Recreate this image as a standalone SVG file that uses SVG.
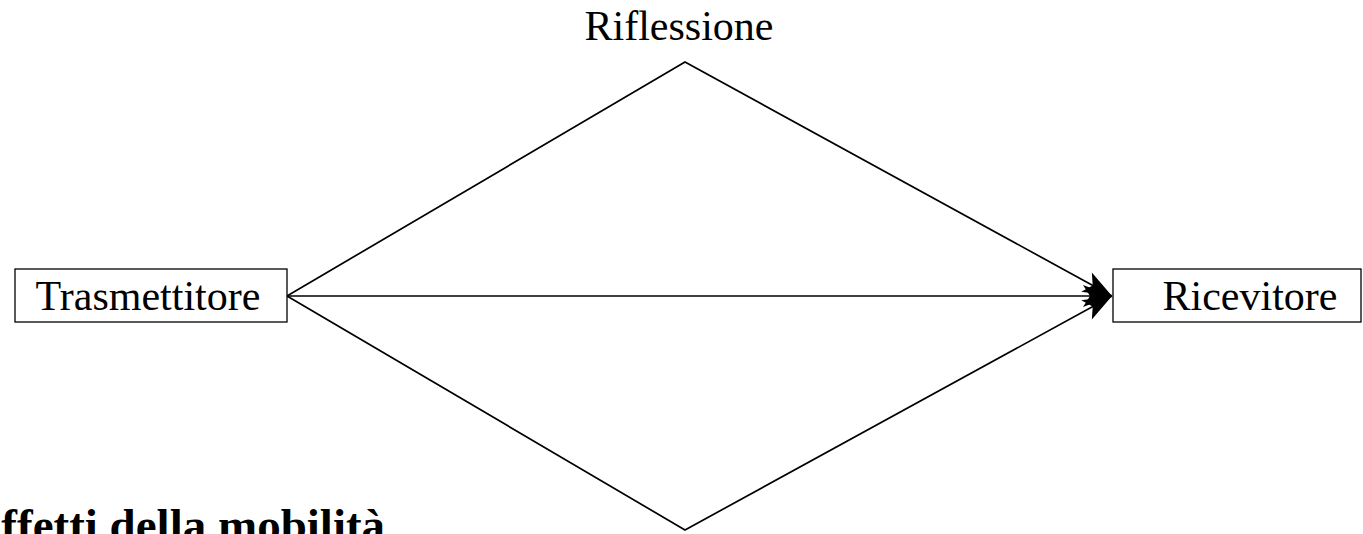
<svg xmlns="http://www.w3.org/2000/svg" width="1363" height="534" viewBox="0 0 1363 534">
<style>
.box{fill:#fff;stroke:#000;stroke-width:1.3}
.lbl{font-family:"Liberation Serif","Times New Roman",serif;font-size:42px;fill:#000}
.edge{fill:none;stroke:#000;stroke-width:1.7}
.title{font-family:"Liberation Serif","Times New Roman",serif;font-size:47px;font-weight:bold;fill:#000}
</style>
<defs>
<marker id="arr" viewBox="-30 -12 32 24" refX="0" refY="0" markerWidth="32" markerHeight="24" markerUnits="userSpaceOnUse" orient="auto">
<path d="M0,0 L-29,-11 L-22,0 L-29,11 Z" fill="#000"/>
</marker>
</defs>
<rect width="1363" height="534" fill="#fff"/>
<g id="connectors">
<polyline class="edge" points="287,296 685,62 1112,296" marker-end="url(#arr)"/>
<line class="edge" x1="287" y1="296" x2="1112" y2="296" marker-end="url(#arr)"/>
<polyline class="edge" points="287,296 685,530 1112,296" marker-end="url(#arr)"/>
</g>
<g id="trasmettitore">
<rect class="box" x="15" y="269" width="272" height="53"/>
<text class="lbl" x="148" y="310" text-anchor="middle">Trasmettitore</text>
</g>
<g id="ricevitore">
<rect class="box" x="1113" y="269" width="248" height="53"/>
<text class="lbl" x="1250" y="310" text-anchor="middle">Ricevitore</text>
</g>
<g id="riflessione">
<text class="lbl" x="679" y="40" text-anchor="middle">Riflessione</text>
</g>
<g id="title">
<text class="title" x="-30" y="541">Effetti della mobilità</text>
</g>
</svg>
